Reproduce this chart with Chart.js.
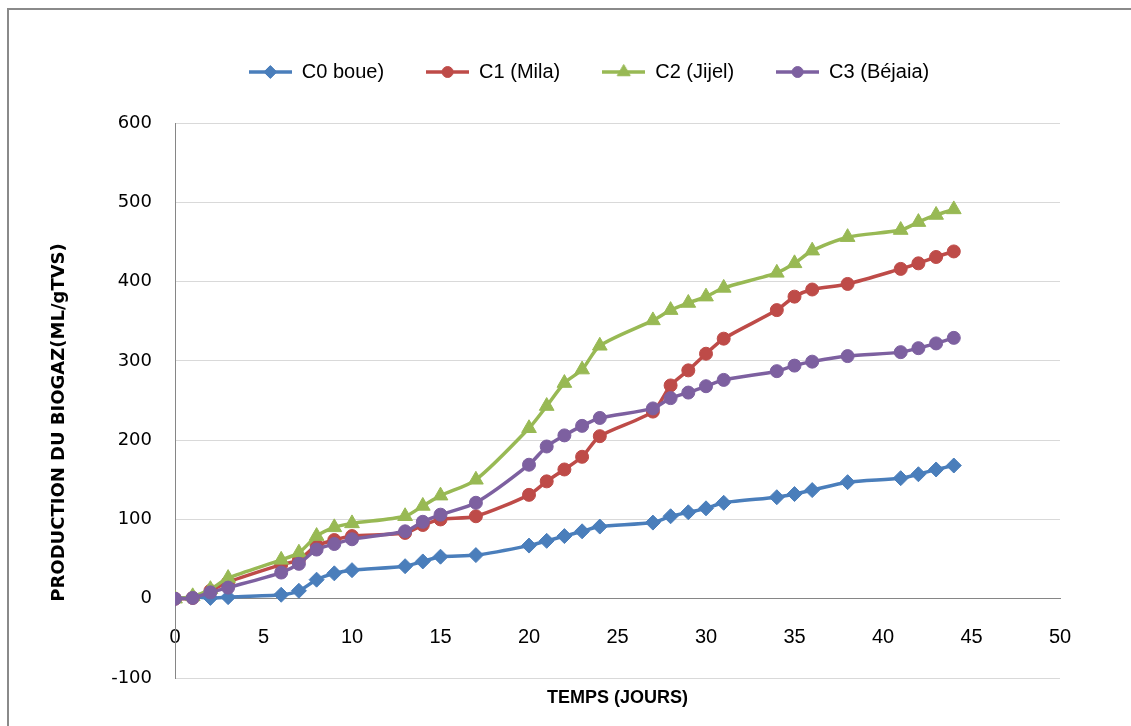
<!DOCTYPE html>
<html>
<head>
<meta charset="utf-8">
<script src="https://cdn.jsdelivr.net/npm/chart.js@4.4.1/dist/chart.umd.min.js"></script>
<style>
  html, body { margin: 0; padding: 0; background: #fff; overflow: hidden; }
  #frame { position: absolute; left: 7px; top: 8px; width: 1200px; height: 800px;
           border-left: 2px solid #8a8a8a; border-top: 2px solid #8a8a8a; box-sizing: border-box; }
  #c { position: absolute; left: 0; top: 0; }
</style>
</head>
<body>
<div id="frame"></div>
<canvas id="c" width="1131" height="726"></canvas>
<script>
// Days of measurement
const DAYS = [0, 1, 2, 3, 6, 7, 8, 9, 10, 13, 14, 15, 17, 20, 21, 22, 23, 24, 27, 28, 29, 30, 31, 34, 35, 36, 38, 41, 42, 43, 44];

// Cumulative biogas production (mL/gTVS)
const C0_BOUE  = [0, 2, 1, 2, 5, 10, 24, 32, 36, 41, 47, 53, 55, 67, 73, 79, 85, 91, 96, 104, 109, 114, 121, 128, 132, 137, 147, 152, 157, 163, 168];
const C1_MILA  = [0, 1, 10, 21, 43, 49, 67, 74, 79, 83, 93, 100, 104, 131, 148, 163, 179, 205, 236, 269, 288, 309, 328, 364, 381, 390, 397, 416, 423, 431, 438];
const C2_JIJEL = [0, 3, 12, 26, 49, 58, 79, 90, 95, 104, 117, 130, 150, 215, 243, 272, 289, 319, 351, 364, 373, 381, 392, 411, 423, 439, 456, 465, 475, 484, 491];
const C3_BEJAIA = [0, 1, 8, 14, 33, 44, 62, 69, 75, 85, 97, 106, 121, 169, 192, 206, 218, 228, 240, 253, 260, 268, 276, 287, 294, 299, 306, 311, 316, 322, 329];

const SERIES_NAMES = ['C0 boue)', 'C1 (Mila)', 'C2 (Jijel)', 'C3 (Béjaia)'];

// Axis ticks
const X_TICKS = [0, 5, 10, 15, 20, 25, 30, 35, 40, 45, 50];
const Y_TICKS = [-100, 0, 100, 200, 300, 400, 500, 600];

const X_TITLE = 'TEMPS (JOURS)';
const Y_TITLE = 'PRODUCTION DU BIOGAZ(ML/gTVS)';

const STYLES = [
  { color: '#4a7ebb', marker: 'rectRot',  radius: 7.5 },
  { color: '#be4b48', marker: 'circle',   radius: 6.5 },
  { color: '#98b954', marker: 'triangle', radius: 8.5 },
  { color: '#7d60a0', marker: 'circle',   radius: 6.5 }
];
const VALUES = [C0_BOUE, C1_MILA, C2_JIJEL, C3_BEJAIA];

// Legend key: a short line segment with the series marker in the middle
function legendIcon(style) {
  const cv = document.createElement('canvas');
  cv.width = 43; cv.height = 18;
  const g = cv.getContext('2d');
  g.strokeStyle = style.color;
  g.lineWidth = 3.5;
  g.beginPath(); g.moveTo(0, 9); g.lineTo(43, 9); g.stroke();
  g.fillStyle = style.color;
  g.lineWidth = 1;
  Chart.helpers.drawPoint(g, { pointStyle: style.marker, radius: style.radius - 1, borderWidth: 1, rotation: 0 }, 21.5, 9);
  return cv;
}
const LEGEND_ICONS = STYLES.map(legendIcon);

const datasets = VALUES.map((vals, i) => ({
  label: SERIES_NAMES[i],
  data: DAYS.map((d, k) => ({ x: d, y: vals[k] })),
  borderColor: STYLES[i].color,
  backgroundColor: STYLES[i].color,
  pointBackgroundColor: STYLES[i].color,
  pointBorderColor: STYLES[i].color,
  pointStyle: STYLES[i].marker,
  pointRadius: STYLES[i].radius,
  pointHoverRadius: STYLES[i].radius,
  pointBorderWidth: 1,
  borderWidth: 3.5,
  tension: 0.25,
  fill: false,
  order: VALUES.length - i
}));

// Leaves a gap between the legend row and the plot
const legendGap = {
  id: 'legendGap',
  beforeInit(chart) {
    const fit = chart.legend.fit;
    chart.legend.fit = function () { fit.call(this); this.height += 31; };
  }
};

const LABEL_FONT = 'Liberation Sans, Arial, sans-serif';

new Chart(document.getElementById('c'), {
  type: 'line',
  data: { datasets },
  plugins: [legendGap],
  options: {
    responsive: false,
    animation: false,
    layout: { padding: { left: 47, right: 0, top: 20, bottom: 48 } },
    plugins: {
      tooltip: { enabled: false },
      legend: {
        position: 'top',
        align: 'center',
        fullSize: true,
        labels: {
          usePointStyle: true,
          pointStyleWidth: 43,
          padding: 42,
          color: '#000',
          font: { family: LABEL_FONT, size: 20 },
          sort: (a, b) => a.datasetIndex - b.datasetIndex,
          generateLabels(chart) {
            const items = Chart.defaults.plugins.legend.labels.generateLabels(chart);
            items.forEach(it => { it.pointStyle = LEGEND_ICONS[it.datasetIndex]; });
            return items;
          }
        }
      }
    },
    scales: {
      x: {
        type: 'linear',
        position: { y: 0 },
        min: X_TICKS[0],
        max: X_TICKS[X_TICKS.length - 1],
        afterBuildTicks: s => { s.ticks = X_TICKS.map(v => ({ value: v })); },
        grid: { display: false, drawTicks: false },
        border: { display: true, color: '#868686', width: 1 },
        ticks: { padding: 27, color: '#000', autoSkip: false, maxRotation: 0,
                 font: { family: LABEL_FONT, size: 20 } },
        title: { display: true, text: X_TITLE, color: '#000',
                 font: { family: LABEL_FONT, size: 18, weight: 'bold' },
                 padding: { top: 11, bottom: 0 } }
      },
      y: {
        type: 'linear',
        position: 'left',
        min: Y_TICKS[0],
        max: Y_TICKS[Y_TICKS.length - 1],
        afterBuildTicks: s => { s.ticks = Y_TICKS.map(v => ({ value: v })); },
        afterFit: s => { s.width = 128; },
        grid: { color: c => (c.tick && c.tick.value === 0 ? '#868686' : '#d9d9d9'), lineWidth: 1, drawTicks: false },
        border: { display: true, color: '#868686', width: 1 },
        ticks: { padding: 23, color: '#000', font: { family: 'DejaVu Sans, sans-serif', size: 18 } },
        // trailing spaces nudge the centred title toward the bottom of the axis
        title: { display: true, text: Y_TITLE + '       ', color: '#000',
                 font: { family: 'DejaVu Sans, sans-serif', size: 18, weight: 'bold' },
                 padding: { top: 2, bottom: 0 } }
      },
      spacer: {
        type: 'linear',
        position: 'right',
        display: true,
        grid: { display: false, drawTicks: false },
        border: { display: false },
        ticks: { display: false },
        afterFit: s => { s.width = 71; }
      }
    }
  }
});
</script>
</body>
</html>
